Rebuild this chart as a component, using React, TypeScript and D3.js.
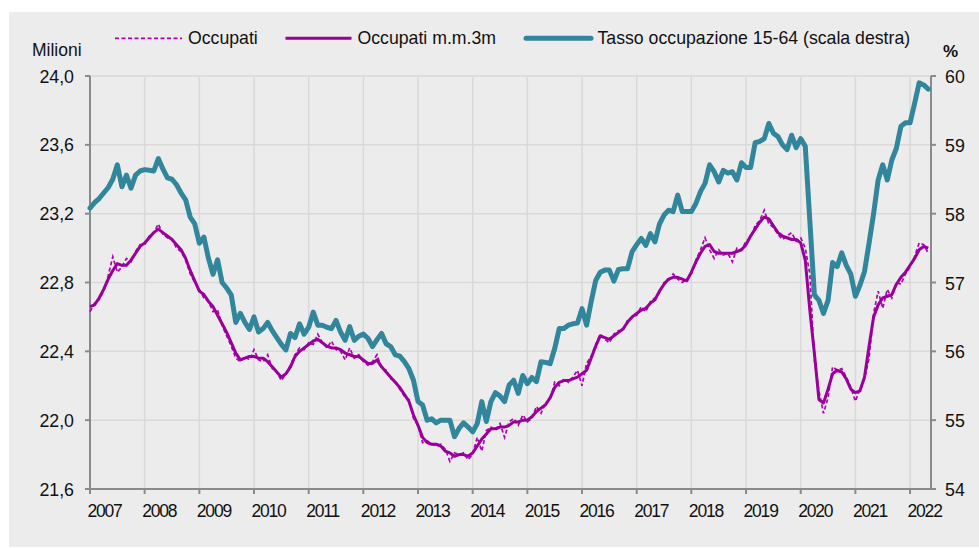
import React from "react";
import * as d3 from "d3";

// ---- Data (monthly, Jan 2007 – May 2022) ----
const years = [2007, 2008, 2009, 2010, 2011, 2012, 2013, 2014, 2015, 2016, 2017, 2018, 2019, 2020, 2021, 2022];
const leftTicks = [21.6, 22.0, 22.4, 22.8, 23.2, 23.6, 24.0];
const rightTicks = [54, 55, 56, 57, 58, 59, 60];

// Tasso occupazione 15-64 (%), right axis
const tasso = [
  58.08, 58.16, 58.22, 58.30, 58.38, 58.50, 58.71, 58.39, 58.56, 58.37, 58.56, 58.62,
  58.64, 58.63, 58.62, 58.80, 58.65, 58.52, 58.50, 58.42, 58.30, 58.20, 57.95, 57.85,
  57.57, 57.66, 57.35, 57.12, 57.33, 57.00, 56.92, 56.82, 56.42, 56.55, 56.42, 56.32,
  56.50, 56.28, 56.33, 56.42, 56.30, 56.20, 56.10, 56.02, 56.26, 56.20, 56.40, 56.25,
  56.35, 56.57, 56.38, 56.38, 56.35, 56.33, 56.45, 56.28, 56.16, 56.36, 56.16, 56.22,
  56.25, 56.19, 56.07, 56.17, 56.26, 56.11, 56.07, 55.95, 55.93, 55.85, 55.75, 55.58,
  55.27, 55.22, 55.00, 55.02, 54.96, 55.00, 55.00, 55.00, 54.76, 54.88, 54.96, 54.90,
  54.83, 54.95, 55.27, 54.98, 55.27, 55.40, 55.35, 55.27, 55.51, 55.58, 55.39, 55.65,
  55.53, 55.62, 55.56, 55.85, 55.84, 55.82, 56.04, 56.33, 56.33, 56.38, 56.40, 56.41,
  56.62, 56.38, 56.72, 57.03, 57.15, 57.18, 57.18, 57.02, 57.19, 57.20, 57.20, 57.45,
  57.55, 57.64, 57.54, 57.71, 57.59, 57.85, 57.98, 58.05, 58.03, 58.27, 58.03, 58.03,
  58.03, 58.15, 58.32, 58.44, 58.71, 58.61, 58.46, 58.63, 58.59, 58.61, 58.49, 58.74,
  58.67, 58.67, 59.03, 59.05, 59.09, 59.31, 59.17, 59.12, 59.00, 58.93, 59.14, 58.96,
  59.09, 58.98, 57.90, 56.82, 56.74, 56.55, 56.74, 57.29, 57.23, 57.43, 57.25, 57.12,
  56.80, 56.96, 57.16, 57.57, 58.00, 58.49, 58.71, 58.49, 58.78, 58.95, 59.27, 59.32,
  59.32, 59.60, 59.90, 59.87, 59.81,
];

// Occupati m.m.3m (millions), left axis
const occupatiMM3 = [
  22.66, 22.67, 22.71, 22.76, 22.82, 22.87, 22.91, 22.90, 22.90, 22.93, 22.97, 23.01,
  23.03, 23.06, 23.09, 23.11, 23.09, 23.07, 23.05, 23.02, 22.99, 22.94, 22.87, 22.81,
  22.75, 22.73, 22.69, 22.66, 22.61, 22.56, 22.51, 22.45, 22.39, 22.35, 22.36, 22.37,
  22.37, 22.36, 22.36, 22.34, 22.31, 22.28, 22.25, 22.27, 22.31, 22.37, 22.40, 22.42,
  22.44, 22.46, 22.47, 22.45, 22.43, 22.42, 22.42, 22.41, 22.39, 22.38, 22.37, 22.37,
  22.35, 22.33, 22.33, 22.35, 22.31, 22.28, 22.25, 22.22, 22.19, 22.15, 22.11, 22.03,
  21.97, 21.90, 21.87, 21.86, 21.86, 21.85, 21.82, 21.81, 21.79, 21.80, 21.80, 21.79,
  21.81, 21.85, 21.89, 21.92, 21.95, 21.95, 21.96, 21.96, 21.97, 21.99, 21.99, 22.00,
  22.00, 22.02, 22.05, 22.07, 22.09, 22.13, 22.19, 22.22, 22.23, 22.23, 22.24, 22.25,
  22.27, 22.29, 22.36, 22.43, 22.49, 22.48, 22.47, 22.49, 22.51, 22.53, 22.57, 22.60,
  22.62, 22.64, 22.65, 22.68, 22.70, 22.75, 22.79, 22.82, 22.83, 22.83, 22.82, 22.81,
  22.86, 22.92, 22.97, 23.01, 23.02, 22.98, 22.97, 22.97, 22.97, 22.97, 22.98, 22.99,
  23.02, 23.07, 23.11, 23.15, 23.18, 23.17, 23.13, 23.09, 23.07, 23.06, 23.05, 23.05,
  23.03, 22.93, 22.64, 22.39, 22.12, 22.10, 22.18, 22.27, 22.29, 22.28, 22.24, 22.18,
  22.16, 22.17, 22.25, 22.43, 22.60, 22.67, 22.71, 22.72, 22.73, 22.79, 22.83, 22.86,
  22.90, 22.94, 22.99, 23.01, 23.00,
];

// Occupati (millions), monthly, left axis
const occupati = [
  22.63, 22.68, 22.70, 22.75, 22.84, 22.95, 22.86, 22.89, 22.94, 22.92, 22.98, 23.02,
  23.02, 23.07, 23.09, 23.14, 23.08, 23.06, 23.05, 23.00, 22.98, 22.93, 22.85, 22.80,
  22.76, 22.71, 22.69, 22.63, 22.64, 22.55, 22.49, 22.43, 22.36, 22.34, 22.37, 22.35,
  22.41, 22.35, 22.34, 22.38, 22.30, 22.28, 22.23, 22.27, 22.32, 22.38, 22.42, 22.41,
  22.45, 22.44, 22.50, 22.45, 22.42, 22.46, 22.41, 22.40, 22.35, 22.42, 22.36, 22.38,
  22.34, 22.32, 22.34, 22.38, 22.30, 22.29, 22.24, 22.23, 22.18, 22.14, 22.12, 22.01,
  21.97, 21.87, 21.88, 21.86, 21.85, 21.86, 21.83, 21.76, 21.81, 21.80, 21.81, 21.77,
  21.80, 21.90, 21.82, 21.94, 21.96, 21.94, 21.98, 21.90, 21.99, 22.01, 21.97, 22.03,
  21.99, 22.01, 22.08, 22.04, 22.10, 22.12, 22.22, 22.20, 22.24, 22.22, 22.25, 22.29,
  22.20, 22.33, 22.37, 22.44, 22.50, 22.47, 22.45, 22.50, 22.52, 22.52, 22.58, 22.60,
  22.61, 22.66, 22.63, 22.69, 22.71, 22.74, 22.80, 22.81, 22.85, 22.82, 22.80, 22.82,
  22.85, 22.93, 22.99, 23.06, 22.99, 22.94, 22.99, 22.96, 22.97, 22.92, 23.00, 22.99,
  23.04, 23.06, 23.13, 23.16, 23.22, 23.14, 23.12, 23.08, 23.05, 23.07, 23.09, 23.04,
  23.06, 23.00, 22.85, 22.35, 22.17, 22.04, 22.13, 22.31, 22.29, 22.30, 22.25, 22.19,
  22.11, 22.18, 22.24, 22.36, 22.62, 22.75, 22.65, 22.76, 22.71, 22.80, 22.79, 22.85,
  22.89, 22.95, 23.03, 23.02, 22.97,
];

const TEAL = "#31869c";
const PURPLE = "#990099";
const PURPLE_D = "#b000b0";
const AXIS = "#8a8a8a";
const GRID = "#d9d9d9";
const TXT = "#111111";
const FONT = "'Liberation Sans', Arial, sans-serif";

export default function App() {
  const W = 979, H = 548;
  const x0 = 90, x1 = 931, yTop = 76, yBot = 489;
  const monthsSpan = ((x1 - x0) / 54.67) * 12;

  const x = d3.scaleLinear().domain([0, monthsSpan]).range([x0, x1]);
  const yL = d3.scaleLinear().domain([21.6, 24.0]).range([yBot, yTop]);
  const yR = d3.scaleLinear().domain([54, 60]).range([yBot, yTop]);

  const it = d3.formatLocale({ decimal: ",", thousands: ".", grouping: [3], currency: ["", "€"] });
  const fmtL = it.format(".1f");

  const lineL = d3.line<number>().x((_, i) => x(i)).y((d) => yL(d));
  const lineR = d3.line<number>().x((_, i) => x(i)).y((d) => yR(d));

  return (
    <svg width={W} height={H} style={{ position: "absolute", left: 0, top: 0 }} fontFamily={FONT}>
      <rect x={0} y={0} width={W} height={H} fill="#ffffff" />
      <rect x={9} y={12} width={W - 9} height={H - 13} fill="#ececec" />

      {/* grid */}
      {leftTicks.map((t) => (
        <line key={"h" + t} x1={x0} x2={x1} y1={yL(t)} y2={yL(t)} stroke={GRID} strokeWidth={1.5} />
      ))}
      {years.map((yr, i) => (
        <line key={"v" + yr} x1={x(i * 12)} x2={x(i * 12)} y1={yTop} y2={yBot} stroke={GRID} strokeWidth={1.5} />
      ))}

      {/* axes */}
      <line x1={x0} x2={x0} y1={yTop} y2={yBot} stroke={AXIS} strokeWidth={2} />
      <line x1={x1} x2={x1} y1={yTop} y2={yBot} stroke={AXIS} strokeWidth={2} />
      <line x1={x0 - 5} x2={x1 + 5} y1={yBot} y2={yBot} stroke={AXIS} strokeWidth={2} />
      {leftTicks.map((t) => (
        <g key={"lt" + t}>
          <line x1={x0 - 5} x2={x0} y1={yL(t)} y2={yL(t)} stroke={AXIS} strokeWidth={2} />
          <text x={74} y={yL(t) + 6.5} textAnchor="end" fontSize={17.8} fill={TXT}>
            {fmtL(t)}
          </text>
        </g>
      ))}
      {rightTicks.map((t) => (
        <g key={"rt" + t}>
          <line x1={x1} x2={x1 + 5} y1={yR(t)} y2={yR(t)} stroke={AXIS} strokeWidth={2} />
          <text x={945} y={yR(t) + 7} textAnchor="start" fontSize={17.8} fill={TXT}>
            {t}
          </text>
        </g>
      ))}
      {years.map((yr, i) => (
        <g key={"yt" + yr}>
          <line x1={x(i * 12)} x2={x(i * 12)} y1={yBot} y2={yBot + 5} stroke={AXIS} strokeWidth={2} />
          <text x={x(i * 12) - 2.5} y={517} fontSize={17.5} letterSpacing={-1.2} fill={TXT}>
            {yr}
          </text>
        </g>
      ))}

      {/* axis titles */}
      <text x={32} y={56} fontSize={17.5} fill={TXT}>Milioni</text>
      <text x={943} y={57} fontSize={17} fontWeight="bold" fill={TXT}>%</text>

      {/* series */}
      <path d={lineL(occupati) || ""} fill="none" stroke={PURPLE_D} strokeWidth={1.7} strokeDasharray="4 2.5" />
      <path d={lineL(occupatiMM3) || ""} fill="none" stroke={PURPLE} strokeWidth={3} strokeLinejoin="round" />
      <path d={lineR(tasso) || ""} fill="none" stroke={TEAL} strokeWidth={5} strokeLinejoin="round" strokeLinecap="round" />

      {/* legend */}
      <line x1={115} x2={182} y1={38.3} y2={38.3} stroke={PURPLE_D} strokeWidth={1.7} strokeDasharray="4 2.5" />
      <text x={188} y={44} fontSize={17.7} fill={TXT}>Occupati</text>
      <line x1={285.5} x2={351.5} y1={38.3} y2={38.3} stroke={PURPLE} strokeWidth={3} />
      <text x={357.5} y={44} fontSize={17.7} fill={TXT}>Occupati m.m.3m</text>
      <line x1={526} x2={591} y1={38.3} y2={38.3} stroke={TEAL} strokeWidth={5} strokeLinecap="round" />
      <text x={597.5} y={44} fontSize={17.7} fill={TXT}>Tasso occupazione 15-64 (scala destra)</text>
    </svg>
  );
}
